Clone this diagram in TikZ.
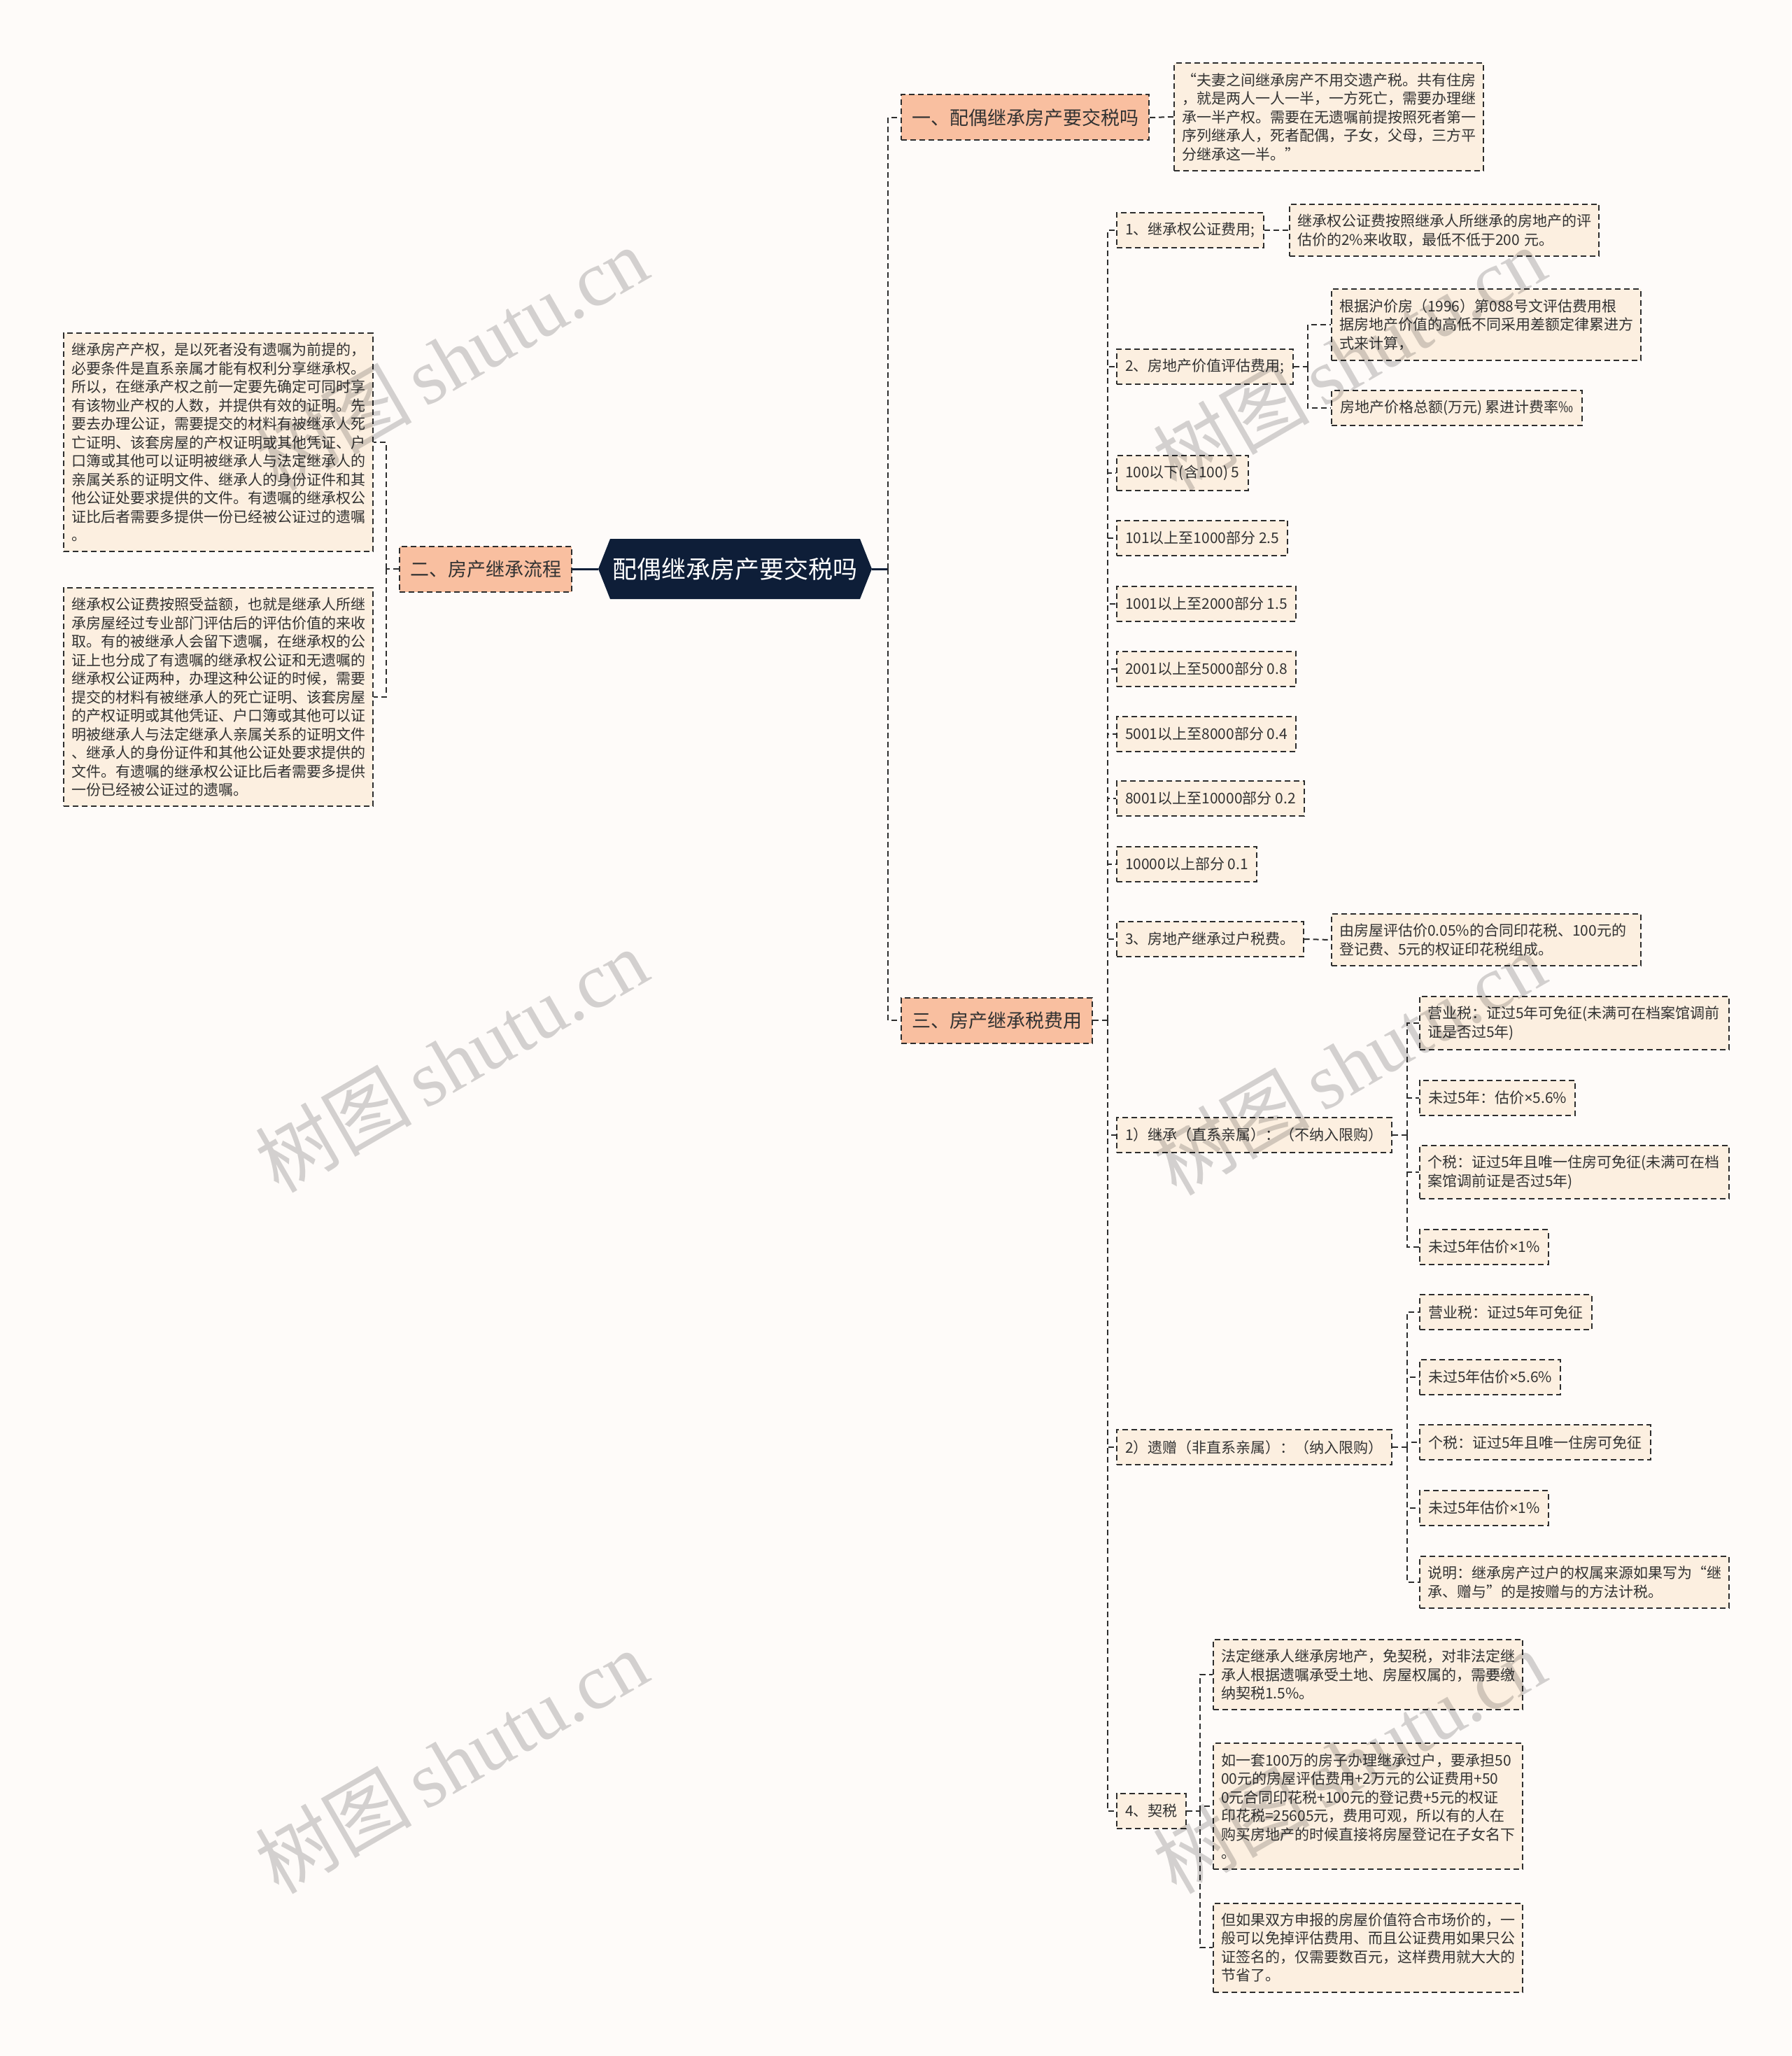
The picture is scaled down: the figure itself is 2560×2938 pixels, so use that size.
\documentclass[tikz,border=0pt]{standalone}
\usepackage{fontspec}
\setmainfont{Noto Sans CJK SC}
\newfontfamily\wmserif{Liberation Serif}
\newfontfamily\latinsans{Noto Sans}
\newcommand{\mytimes}{{\latinsans ×}}
\definecolor{bgc}{RGB}{254,251,249}
\definecolor{leaffill}{RGB}{252,239,224}
\definecolor{brfill}{RGB}{249,191,160}
\definecolor{rootfill}{RGB}{14,30,56}
\definecolor{boxline}{RGB}{45,45,45}
\definecolor{txt}{RGB}{50,50,50}
\tikzset{
  box/.style={draw=boxline, line width=2pt, dash pattern=on 8pt off 5pt, fill=leaffill, text=txt,
    font=\fontsize{21}{26.5}\selectfont, inner xsep=12pt, inner ysep=12pt, minimum height=50pt, anchor=west},
  para/.style={box, text width=420pt, align=left, inner xsep=11pt, inner ysep=14pt},
  branch/.style={box, fill=brfill, font=\fontsize{27}{32}\selectfont, minimum height=65pt, inner xsep=15pt},
  conn/.style={draw=boxline, line width=2pt, dash pattern=on 8pt off 5pt},
  rootline/.style={draw=rootfill, line width=3pt},
  wm/.style={text=black, text opacity=0.17, rotate=30, inner sep=0pt},
}
\begin{document}
\begin{tikzpicture}[x=1pt,y=-1pt]
\fill[bgc] (0,0) rectangle (2560,2938);
\useasboundingbox (0,0) rectangle (2560,2938);

% root
\fill[rootfill] (855,813) -- (872,770) -- (1229,770) -- (1246,813) -- (1229,856) -- (872,856) -- cycle;
\node[text=white, font=\fontsize{35}{40}\selectfont, minimum width=391pt, minimum height=86pt, inner sep=0pt] (root) at (1050.5,813) {配偶继承房产要交税吗};

% branches
\node[branch] (b1) at (1287,168) {一、配偶继承房产要交税吗};
\node[branch] (b2) at (570,813) {二、房产继承流程};
\node[branch] (b3) at (1287,1458) {三、房产继承税费用};

% branch 1 leaf
\node[para] (l1) at (1677,167) {“夫妻之间继承房产不用交遗产税。共有住房\\，就是两人一人一半，一方死亡，需要办理继\\承一半产权。需要在无遗嘱前提按照死者第一\\序列继承人，死者配偶，子女，父母，三方平\\分继承这一半。”};

% branch 2 leaves
\node[para] (ll1) at (90,632) {继承房产产权，是以死者没有遗嘱为前提的，\\必要条件是直系亲属才能有权利分享继承权。\\所以，在继承产权之前一定要先确定可同时享\\有该物业产权的人数，并提供有效的证明。先\\要去办理公证，需要提交的材料有被继承人死\\亡证明、该套房屋的产权证明或其他凭证、户\\口簿或其他可以证明被继承人与法定继承人的\\亲属关系的证明文件、继承人的身份证件和其\\他公证处要求提供的文件。有遗嘱的继承权公\\证比后者需要多提供一份已经被公证过的遗嘱\\。};
\node[para] (ll2) at (90,996) {继承权公证费按照受益额，也就是继承人所继\\承房屋经过专业部门评估后的评估价值的来收\\取。有的被继承人会留下遗嘱，在继承权的公\\证上也分成了有遗嘱的继承权公证和无遗嘱的\\继承权公证两种，办理这种公证的时候，需要\\提交的材料有被继承人的死亡证明、该套房屋\\的产权证明或其他凭证、户口簿或其他可以证\\明被继承人与法定继承人亲属关系的证明文件\\、继承人的身份证件和其他公证处要求提供的\\文件。有遗嘱的继承权公证比后者需要多提供\\一份已经被公证过的遗嘱。};

% branch 3 children
\node[box] (c1) at (1595,329) {1、继承权公证费用;};
\node[para] (c1l) at (1842,329) {继承权公证费按照继承人所继承的房地产的评\\估价的2\%来收取，最低不低于200 元。};
\node[box] (c2) at (1595,524) {2、房地产价值评估费用;};
\node[para] (c2a) at (1902,464) {根据沪价房（1996）第088号文评估费用根\\据房地产价值的高低不同采用差额定律累进方\\式来计算，};
\node[box] (c2b) at (1902,583) {房地产价格总额(万元) 累进计费率‰};
\node[box] (c3) at (1595,676) {100以下(含100) 5};
\node[box] (c4) at (1595,769) {101以上至1000部分 2.5};
\node[box] (c5) at (1595,863) {1001以上至2000部分 1.5};
\node[box] (c6) at (1595,956) {2001以上至5000部分 0.8};
\node[box] (c7) at (1595,1049) {5001以上至8000部分 0.4};
\node[box] (c8) at (1595,1141) {8001以上至10000部分 0.2};
\node[box] (c9) at (1595,1235) {10000以上部分 0.1};
\node[box] (c10) at (1595,1342) {3、房地产继承过户税费。};
\node[para] (c10l) at (1902,1343) {由房屋评估价0.05\%的合同印花税、100元的\\登记费、5元的权证印花税组成。};
\node[box] (c11) at (1595,1622) {1）继承（直系亲属）：（不纳入限购）};
\node[para] (c11a) at (2028,1462) {营业税：证过5年可免征(未满可在档案馆调前\\证是否过5年)};
\node[box] (c11b) at (2028,1569) {未过5年：估价\mytimes 5.6\%};
\node[para] (c11c) at (2028,1675) {个税：证过5年且唯一住房可免征(未满可在档\\案馆调前证是否过5年)};
\node[box] (c11d) at (2028,1782) {未过5年估价\mytimes 1\%};
\node[box] (c12) at (1595,2068) {2）遗赠（非直系亲属）：（纳入限购）};
\node[box] (c12a) at (2028,1875) {营业税：证过5年可免征};
\node[box] (c12b) at (2028,1968) {未过5年估价\mytimes 5.6\%};
\node[box] (c12c) at (2028,2061) {个税：证过5年且唯一住房可免征};
\node[box] (c12d) at (2028,2155) {未过5年估价\mytimes 1\%};
\node[para] (c12e) at (2028,2261) {说明：继承房产过户的权属来源如果写为“继\\承、赠与”的是按赠与的方法计税。};
\node[box] (c13) at (1595,2588) {4、契税};
\node[para] (c13a) at (1733,2393) {法定继承人继承房地产，免契税，对非法定继\\承人根据遗嘱承受土地、房屋权属的，需要缴\\纳契税1.5\%。};
\node[para] (c13b) at (1733,2581) {如一套100万的房子办理继承过户，要承担50\\00元的房屋评估费用+2万元的公证费用+50\\0元合同印花税+100元的登记费+5元的权证\\印花税=25605元，费用可观，所以有的人在\\购买房地产的时候直接将房屋登记在子女名下\\。};
\node[para] (c13c) at (1733,2783) {但如果双方申报的房屋价值符合市场价的，一\\般可以免掉评估费用、而且公证费用如果只公\\证签名的，仅需要数百元，这样费用就大大的\\节省了。};

% connectors: root
\draw[rootline] (root.east) -- ++(23,0) coordinate (rj);
\draw[rootline] (root.west) -- (b2.east);
\draw[conn] (rj) |- (b1.west);
\draw[conn] (rj) |- (b3.west);

% branch 1
\draw[conn] (b1.east) -- (l1.west);

% branch 2
\draw[conn] (b2.west) -- ++(-18,0) coordinate (lj);
\draw[conn] (lj) |- (ll1.east);
\draw[conn] (lj) |- (ll2.east);

% branch 3
\draw[conn] (b3.east) -- ++(21,0) coordinate (j3);
\foreach \c in {c1,c2,c3,c4,c5,c6,c7,c8,c9,c10,c11,c12,c13}{
  \draw[conn] (j3) |- (\c.west);
}
\draw[conn] (c1.east) -- (c1l.west);
\draw[conn] (c10.east) -- (c10l.west);
\draw[conn] (c2.east) -- ++(20,0) coordinate (j2);
\draw[conn] (j2) |- (c2a.west);
\draw[conn] (j2) |- (c2b.west);
\draw[conn] (c11.east) -- ++(21,0) coordinate (j11);
\foreach \c in {c11a,c11b,c11c,c11d}{ \draw[conn] (j11) |- (\c.west); }
\draw[conn] (c12.east) -- ++(21,0) coordinate (j12);
\foreach \c in {c12a,c12b,c12c,c12d,c12e}{ \draw[conn] (j12) |- (\c.west); }
\draw[conn] (c13.east) -- ++(19,0) coordinate (j13);
\foreach \c in {c13a,c13b,c13c}{ \draw[conn] (j13) |- (\c.west); }

% watermarks
\foreach \p [count=\i] in {(645,512),(645,1515),(645,2517),(1928,512),(1928,1519),(1928,2517)}{
  \node[wm] (wm\i) at \p {\fontsize{112}{114}\selectfont 树图\,{\wmserif shutu.cn}};
}
\end{tikzpicture}
\end{document}
